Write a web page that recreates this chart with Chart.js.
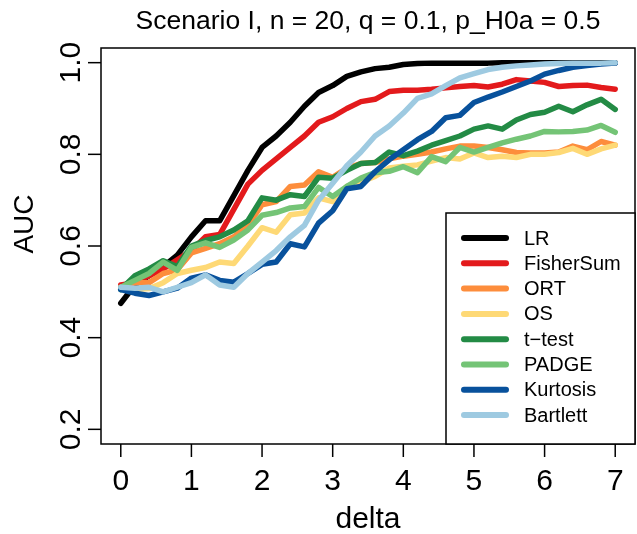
<!DOCTYPE html>
<html>
<head>
<meta charset="utf-8">
<script src="https://cdn.jsdelivr.net/npm/chart.js@4/dist/chart.umd.min.js"></script>
<style>
  html, body { margin: 0; padding: 0; background: #ffffff; }
  #wrap { width: 637px; height: 534px; }
</style>
</head>
<body>
<div id="wrap"><canvas id="myChart" width="637" height="534"></canvas></div>
<script>
// x values (delta) and axis ticks
const delta = [0, 0.2, 0.4, 0.6, 0.8, 1.0, 1.2, 1.4, 1.6, 1.8, 2.0, 2.2, 2.4, 2.6, 2.8, 3.0, 3.2, 3.4,
  3.6, 3.8, 4.0, 4.2, 4.4, 4.6, 4.8, 5.0, 5.2, 5.4, 5.6, 5.8, 6.0, 6.2, 6.4, 6.6, 6.8, 7.0];
const xTicks = [0, 1, 2, 3, 4, 5, 6, 7];
const yTicks = [0.2, 0.4, 0.6, 0.8, 1.0];
const yTickLabels = ['0.2', '0.4', '0.6', '0.8', '1.0'];

// AUC per method
const lr = [0.475, 0.515, 0.535, 0.555, 0.58, 0.62, 0.655, 0.655, 0.71, 0.765, 0.815, 0.84, 0.87, 0.905,
  0.935, 0.95, 0.97, 0.98, 0.987, 0.99, 0.996, 0.998, 0.999, 0.999, 0.999, 0.999, 0.999, 1.0, 1.0, 1.0,
  1.0, 1.0, 1.0, 1.0, 1.0, 1.0];
const fisherSum = [0.515, 0.52, 0.535, 0.55, 0.57, 0.59, 0.62, 0.625, 0.68, 0.735, 0.765, 0.79, 0.815,
  0.84, 0.87, 0.882, 0.9, 0.915, 0.92, 0.937, 0.94, 0.94, 0.942, 0.945, 0.948, 0.95, 0.947, 0.953, 0.963,
  0.96, 0.957, 0.948, 0.95, 0.951, 0.946, 0.942];
const ort = [0.51, 0.52, 0.52, 0.54, 0.548, 0.585, 0.595, 0.605, 0.62, 0.645, 0.69, 0.697, 0.73, 0.733,
  0.762, 0.75, 0.77, 0.78, 0.782, 0.79, 0.796, 0.8, 0.805, 0.812, 0.818, 0.818, 0.815, 0.81, 0.804, 0.803,
  0.803, 0.805, 0.818, 0.81, 0.828, 0.82];
const os = [0.51, 0.505, 0.507, 0.52, 0.54, 0.547, 0.553, 0.565, 0.562, 0.6, 0.64, 0.63, 0.668, 0.672,
  0.705, 0.697, 0.73, 0.74, 0.752, 0.77, 0.774, 0.777, 0.785, 0.793, 0.79, 0.803, 0.793, 0.796, 0.793, 0.8,
  0.8, 0.804, 0.813, 0.8, 0.812, 0.82];
const tTest = [0.505, 0.535, 0.55, 0.568, 0.555, 0.6, 0.612, 0.62, 0.635, 0.655, 0.705, 0.7, 0.712, 0.708,
  0.75, 0.748, 0.765, 0.78, 0.782, 0.805, 0.797, 0.807, 0.82, 0.83, 0.84, 0.855, 0.862, 0.855, 0.875,
  0.887, 0.892, 0.905, 0.893, 0.908, 0.92, 0.898];
const padge = [0.51, 0.525, 0.54, 0.565, 0.547, 0.597, 0.607, 0.597, 0.613, 0.635, 0.667, 0.673, 0.683,
  0.686, 0.728, 0.708, 0.73, 0.748, 0.76, 0.763, 0.773, 0.76, 0.795, 0.784, 0.815, 0.805, 0.815, 0.825,
  0.833, 0.84, 0.85, 0.849, 0.85, 0.853, 0.863, 0.848];
const kurtosis = [0.505, 0.497, 0.492, 0.5, 0.508, 0.53, 0.537, 0.525, 0.521, 0.54, 0.56, 0.565, 0.605,
  0.598, 0.65, 0.677, 0.725, 0.73, 0.762, 0.788, 0.81, 0.832, 0.85, 0.88, 0.885, 0.913, 0.925, 0.936,
  0.948, 0.96, 0.975, 0.983, 0.99, 0.994, 0.997, 0.999];
const bartlett = [0.51, 0.508, 0.51, 0.5, 0.51, 0.52, 0.537, 0.515, 0.51, 0.54, 0.565, 0.59, 0.62, 0.645,
  0.7, 0.737, 0.775, 0.805, 0.84, 0.862, 0.89, 0.922, 0.932, 0.95, 0.967, 0.976, 0.985, 0.99, 0.993, 0.995,
  0.997, 0.998, 0.999, 0.999, 0.999, 1.0];

const methods = ['LR', 'FisherSum', 'ORT', 'OS', 't\u2212test', 'PADGE', 'Kurtosis', 'Bartlett'];
const series = [lr, fisherSum, ort, os, tTest, padge, kurtosis, bartlett];
const colors = ['#000000', '#E31A1C', '#FD8D3C', '#FED976', '#238B45', '#74C476', '#08519C', '#9ECAE1'];

const FONT = '"Liberation Sans", Arial, Helvetica, sans-serif';

// R-style box, axes, title and legend drawn on top of the chart
const baseGraphics = {
  id: 'baseGraphics',
  afterDraw(chart) {
    const ctx = chart.ctx;
    const xs = chart.scales.x;
    const ys = chart.scales.y;
    const a = chart.chartArea;
    ctx.save();
    ctx.strokeStyle = '#000';
    ctx.fillStyle = '#000';
    ctx.lineWidth = 1.5;
    ctx.strokeRect(a.left, a.top, a.right - a.left, a.bottom - a.top);

    // x axis
    ctx.font = '30px ' + FONT;
    ctx.textAlign = 'center';
    ctx.textBaseline = 'alphabetic';
    xTicks.forEach(v => {
      const px = xs.getPixelForValue(v);
      ctx.beginPath();
      ctx.moveTo(px, a.bottom);
      ctx.lineTo(px, a.bottom + 13);
      ctx.stroke();
      ctx.fillText(String(v), px, a.bottom + 46);
    });

    // y axis, labels rotated like R's default
    yTicks.forEach((v, i) => {
      const py = ys.getPixelForValue(v);
      ctx.beginPath();
      ctx.moveTo(a.left, py);
      ctx.lineTo(a.left - 13, py);
      ctx.stroke();
      ctx.save();
      ctx.translate(a.left - 21, py);
      ctx.rotate(-Math.PI / 2);
      ctx.fillText(yTickLabels[i], 0, 0);
      ctx.restore();
    });

    // axis titles
    ctx.fillText('delta', (a.left + a.right) / 2, 528);
    ctx.save();
    ctx.font = '28px ' + FONT;
    ctx.translate(33, 224);
    ctx.rotate(-Math.PI / 2);
    ctx.fillText('AUC', 0, 0);
    ctx.restore();

    // title
    ctx.font = '26.5px ' + FONT;
    ctx.fillText('Scenario I, n = 20, q = 0.1, p_H0a = 0.5', (a.left + a.right) / 2, 29);

    // legend (bottom right, inside the plot)
    const lx = a.right - 189;
    const ly = a.bottom - 231;
    ctx.fillStyle = '#fff';
    ctx.fillRect(lx, ly, a.right - lx, a.bottom - ly);
    ctx.strokeRect(lx, ly, a.right - lx, a.bottom - ly);
    ctx.font = '20px ' + FONT;
    ctx.textAlign = 'left';
    ctx.textBaseline = 'middle';
    ctx.lineCap = 'round';
    methods.forEach((m, i) => {
      const yy = ly + 25 + i * 25.3;
      ctx.strokeStyle = colors[i];
      ctx.lineWidth = 6;
      ctx.beginPath();
      ctx.moveTo(lx + 18, yy);
      ctx.lineTo(lx + 60, yy);
      ctx.stroke();
      ctx.fillStyle = '#000';
      ctx.fillText(m, lx + 78, yy + 1);
    });
    ctx.restore();
  }
};

const ctx = document.getElementById('myChart').getContext('2d');
const myChart = new Chart(ctx, {
  type: 'line',
  data: {
    datasets: series.map((s, i) => ({
      label: methods[i],
      data: s.map((v, j) => ({ x: delta[j], y: v })),
      borderColor: colors[i],
      backgroundColor: colors[i],
      borderWidth: 5.5,
      borderCapStyle: 'round',
      borderJoinStyle: 'round',
      pointRadius: 0,
      tension: 0,
      fill: false,
      order: series.length - i
    }))
  },
  options: {
    responsive: false,
    animation: false,
    layout: { padding: { left: 101, right: 2, top: 48, bottom: 90 } },
    scales: {
      x: { type: 'linear', min: -0.28, max: 7.28, display: false },
      y: { min: 0.168, max: 1.032, display: false }
    },
    plugins: {
      legend: { display: false },
      tooltip: { enabled: false }
    }
  },
  plugins: [baseGraphics]
});
</script>
</body>
</html>
